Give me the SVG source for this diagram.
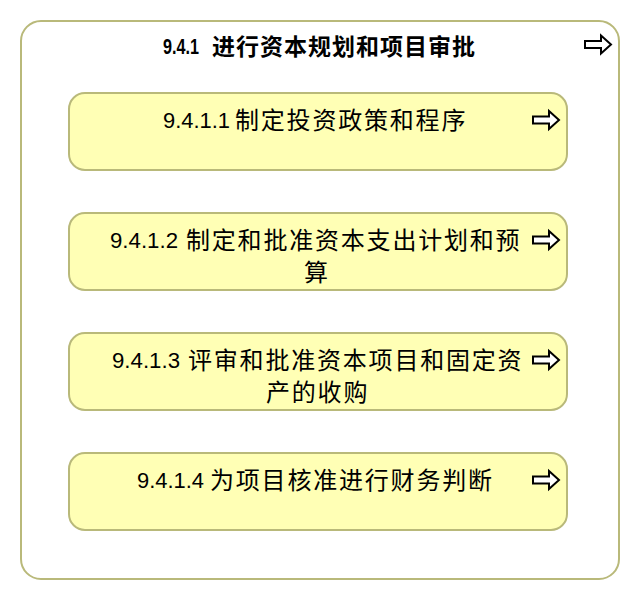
<svg xmlns="http://www.w3.org/2000/svg" width="640" height="600" viewBox="0 0 640 600">
<defs>
<style>
.outer{fill:#ffffff;stroke:#b9b97a;stroke-width:2}
.box{fill:#ffffb5;stroke:#b9b97a;stroke-width:2}
.t{font-family:"Liberation Sans","Noto Sans CJK SC",sans-serif;fill:#000}
.d{font-size:22px}
.c{font-family:"Noto Sans CJK SC",sans-serif;font-size:24px;letter-spacing:1.8px}
.tb{font-weight:bold}
.ct{font-family:"Noto Sans CJK SC",sans-serif;font-size:23px;letter-spacing:1px;font-weight:bold}
.arr{fill:#fff;stroke:#000;stroke-width:2;stroke-linejoin:miter}
</style>
<path id="arrow" d="M0,-3.5 H16 V-9 L26,0 L16,9 V3.5 H0 Z"/>
</defs>
<g id="n941">
<rect class="outer" x="21" y="21" width="598" height="558" rx="20" ry="20"/>
<text class="t tb d" x="163" y="54" textLength="36" lengthAdjust="spacingAndGlyphs">9.4.1</text>
<text class="t ct" x="212" y="55">进行资本规划和项目审批</text>
<use href="#arrow" class="arr" x="585" y="44.5"/>
</g>
<g id="n9411">
<rect class="box" x="69" y="93" width="498" height="77" rx="16" ry="16"/>
<text class="t d" x="163" y="128" textLength="67" lengthAdjust="spacingAndGlyphs">9.4.1.1</text>
<text class="t c" x="235" y="129">制定投资政策和程序</text>
<use href="#arrow" class="arr" x="533" y="120"/>
</g>
<g id="n9412">
<rect class="box" x="69" y="213" width="498" height="77" rx="16" ry="16"/>
<text class="t d" x="110" y="248" textLength="68" lengthAdjust="spacingAndGlyphs">9.4.1.2</text>
<text class="t c" x="186" y="249">制定和批准资本支出计划和预</text>
<text class="t c" x="304" y="281">算</text>
<use href="#arrow" class="arr" x="533" y="240"/>
</g>
<g id="n9413">
<rect class="box" x="69" y="333" width="498" height="77" rx="16" ry="16"/>
<text class="t d" x="112" y="368" textLength="68" lengthAdjust="spacingAndGlyphs">9.4.1.3</text>
<text class="t c" x="188" y="369">评审和批准资本项目和固定资</text>
<text class="t c" x="266" y="401">产的收购</text>
<use href="#arrow" class="arr" x="533" y="360"/>
</g>
<g id="n9414">
<rect class="box" x="69" y="453" width="498" height="77" rx="16" ry="16"/>
<text class="t d" x="137" y="488" textLength="67" lengthAdjust="spacingAndGlyphs">9.4.1.4</text>
<text class="t c" x="210" y="489">为项目核准进行财务判断</text>
<use href="#arrow" class="arr" x="533" y="480"/>
</g>
<g id="connectors"></g>
</svg>
